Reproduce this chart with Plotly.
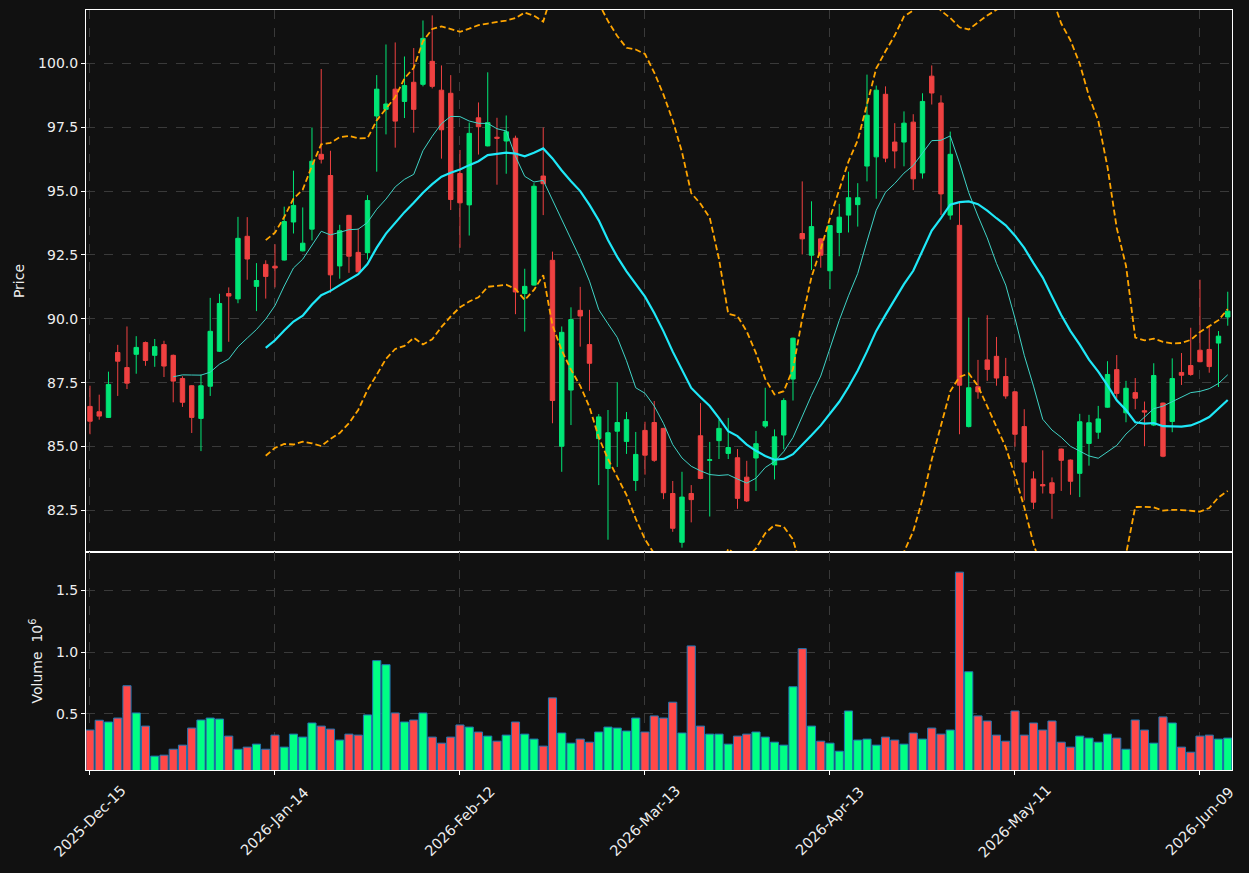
import pandas as pd
import plotly.graph_objects as go
from plotly.subplots import make_subplots

# ---------------- data ----------------
opens = [86.57, 86.36, 86.14, 88.68, 88.09, 88.61, 89.07, 88.57, 88.99, 88.57,
         87.66, 87.38, 86.10, 87.36, 88.73, 90.99, 90.78, 93.23, 91.27, 92.13,
         92.06, 92.30, 93.79, 92.66, 93.51, 96.44, 95.61, 92.07, 94.05, 92.60,
         92.59, 97.94, 98.20, 98.99, 98.51, 99.26, 99.18, 100.08, 98.95, 98.83,
         95.69, 94.46, 97.87, 96.77, 97.11, 96.96, 97.07, 90.99, 91.32, 95.59,
         92.29, 85.01, 87.21, 90.33, 88.99, 85.31, 84.14, 85.60, 85.20, 83.67,
         85.63, 85.94, 85.71, 83.16, 81.25, 83.16, 85.42, 84.46, 85.23, 84.73,
         84.56, 83.80, 84.55, 85.80, 84.28, 85.45, 87.64, 93.34, 92.49, 93.13,
         91.88, 93.38, 94.06, 94.47, 95.98, 96.34, 98.79, 96.92, 96.92, 97.70,
         95.71, 99.50, 98.45, 94.06, 93.66, 85.78, 87.34, 88.39, 88.53, 87.74,
         87.14, 85.78, 83.73, 83.51, 83.58, 84.90, 84.47, 83.95, 85.12, 85.56,
         86.54, 88.01, 86.32, 87.11, 86.40, 85.84, 86.70, 85.98, 87.90, 88.17,
         88.77, 88.80, 89.05, 90.07]
highs = [87.38, 87.03, 87.93, 88.98, 89.70, 89.32, 89.11, 89.21, 89.14, 88.60,
         87.75, 87.40, 87.82, 90.82, 90.98, 91.23, 93.99, 93.98, 92.18, 92.29,
         92.92, 94.39, 95.80, 94.36, 97.49, 99.78, 96.58, 93.68, 94.07, 93.54,
         94.84, 99.54, 100.74, 100.82, 100.27, 100.60, 101.68, 101.88, 99.92, 99.54,
         96.61, 97.68, 98.47, 99.65, 97.87, 97.96, 97.17, 91.96, 95.31, 97.49,
         92.63, 89.70, 90.45, 91.25, 90.35, 86.27, 86.43, 87.52, 86.35, 85.57,
         85.97, 86.78, 85.73, 83.65, 84.01, 83.49, 86.70, 85.18, 86.05, 86.12,
         84.90, 84.44, 85.61, 87.30, 85.67, 86.89, 89.26, 95.38, 94.60, 93.15,
         93.67, 94.50, 95.76, 95.31, 99.56, 99.13, 99.10, 97.66, 98.12, 98.01,
         98.83, 99.92, 98.75, 97.33, 94.54, 90.05, 88.39, 90.14, 89.29, 88.47,
         87.16, 86.46, 84.03, 84.85, 83.79, 84.92, 84.49, 86.28, 86.24, 86.59,
         88.34, 88.58, 87.57, 87.68, 86.76, 88.26, 86.72, 88.45, 88.66, 89.65,
         91.53, 89.70, 89.52, 91.06]
lows = [85.48, 86.05, 86.12, 86.98, 87.25, 87.85, 88.16, 88.12, 87.72, 86.73,
        86.55, 85.53, 84.82, 86.98, 88.70, 89.10, 90.61, 91.53, 90.30, 90.79,
        91.23, 92.28, 93.34, 92.64, 93.07, 96.08, 91.02, 91.57, 91.80, 91.82,
        92.32, 95.76, 97.22, 96.70, 97.86, 97.29, 99.10, 99.02, 96.27, 94.26,
        92.78, 93.26, 96.43, 96.75, 95.25, 95.68, 90.18, 89.50, 91.30, 94.06,
        85.91, 84.01, 85.84, 88.91, 87.18, 83.49, 81.35, 84.20, 84.71, 83.26,
        83.90, 84.40, 82.94, 81.66, 81.04, 82.03, 83.72, 82.26, 84.51, 84.51,
        82.56, 82.83, 83.26, 85.72, 83.71, 84.89, 86.80, 92.52, 91.91, 92.00,
        91.16, 92.45, 93.38, 93.61, 95.38, 94.70, 96.13, 95.89, 95.97, 95.04,
        95.49, 98.39, 94.06, 93.88, 85.48, 85.75, 86.87, 87.57, 87.38, 86.87,
        84.99, 82.89, 82.55, 83.16, 82.17, 83.26, 83.11, 83.02, 84.25, 85.30,
        86.52, 86.87, 85.95, 86.46, 85.01, 85.80, 84.58, 85.56, 87.41, 87.77,
        88.30, 87.89, 87.33, 89.73]
closes = [85.99, 86.19, 87.43, 88.34, 87.48, 88.88, 88.37, 88.91, 88.15, 87.56,
          86.73, 86.14, 87.38, 89.51, 90.60, 90.89, 93.15, 92.34, 91.50, 91.66,
          91.99, 93.81, 94.44, 92.96, 96.17, 96.25, 91.72, 93.45, 92.45, 91.84,
          94.63, 98.99, 98.41, 97.74, 99.13, 98.20, 100.98, 99.10, 97.40, 94.67,
          94.54, 97.26, 97.52, 97.68, 97.07, 97.32, 91.05, 91.27, 95.19, 95.29,
          86.80, 89.47, 89.97, 90.11, 88.26, 86.16, 85.54, 85.94, 86.05, 84.69,
          84.66, 84.46, 83.19, 81.80, 83.02, 82.92, 83.75, 84.48, 85.71, 84.96,
          82.97, 82.87, 85.11, 85.98, 85.38, 86.80, 89.24, 93.13, 93.61, 92.49,
          93.65, 93.98, 94.74, 94.74, 97.97, 98.95, 96.29, 96.57, 97.66, 95.48,
          98.51, 98.84, 94.89, 96.44, 87.40, 87.30, 87.14, 88.02, 87.68, 86.98,
          85.48, 84.39, 82.82, 83.46, 83.17, 84.46, 83.64, 85.97, 85.93, 86.08,
          87.82, 87.08, 87.28, 86.89, 86.35, 87.78, 84.62, 87.66, 87.79, 87.82,
          88.32, 88.13, 89.32, 90.30]
volumes = [370000, 449000, 435000, 467000, 728000, 508000, 402000, 159000, 167000, 215000,
           248000, 386000, 451000, 467000, 459000, 321000, 215000, 232000, 256000, 215000,
           329000, 232000, 337000, 313000, 427000, 402000, 378000, 289000, 337000, 329000,
           492000, 931000, 898000, 508000, 435000, 451000, 508000, 313000, 264000, 313000,
           411000, 394000, 354000, 321000, 280000, 329000, 435000, 337000, 297000, 240000,
           630000, 346000, 264000, 297000, 272000, 354000, 394000, 386000, 362000, 467000,
           354000, 484000, 467000, 595000, 346000, 1050000, 402000, 337000, 337000, 256000,
           321000, 337000, 354000, 313000, 272000, 248000, 720000, 1028000, 402000, 280000,
           264000, 199000, 524000, 289000, 297000, 248000, 313000, 289000, 256000, 346000,
           297000, 386000, 337000, 370000, 1646000, 841000, 484000, 443000, 329000, 280000,
           524000, 329000, 427000, 370000, 443000, 272000, 232000, 321000, 305000, 272000,
           337000, 305000, 215000, 451000, 370000, 264000, 476000, 427000, 232000, 191000,
           321000, 329000, 297000, 305000]
tick_labels = ["2025-Dec-15", "2026-Jan-14", "2026-Feb-12", "2026-Mar-13",
               "2026-Apr-13", "2026-May-11", "2026-Jun-09"]
tick_index = [0, 20, 40, 60, 80, 100, 120]

# ---------------- derived series ----------------
idx = list(range(len(closes)))
cs = pd.Series(closes)
ma10 = cs.rolling(10).mean()
ma20 = cs.rolling(20).mean()
sd20 = cs.rolling(20).std(ddof=0)
bb_up = ma20 + 2 * sd20
bb_lo = ma20 - 2 * sd20
vol_m = [v / 1e6 for v in volumes]

UP_C, DN_C = "#00e676", "#ef4141"
UP_V, DN_V = "#00ff84", "#ff4848"
vcolors = [UP_V if c >= o else DN_V for o, c in zip(opens, closes)]

fig = make_subplots(rows=2, cols=1, shared_xaxes=True, vertical_spacing=0,
                    row_heights=[542, 218])

fig.add_trace(go.Candlestick(
    x=idx, open=opens, high=highs, low=lows, close=closes,
    increasing=dict(line=dict(color=UP_C, width=1), fillcolor=UP_C),
    decreasing=dict(line=dict(color=DN_C, width=1), fillcolor=DN_C),
    whiskerwidth=0, showlegend=False), row=1, col=1)

fig.add_trace(go.Scatter(x=idx, y=ma10, mode="lines",
                         line=dict(color="#3fd3c6", width=1), showlegend=False), row=1, col=1)
fig.add_trace(go.Scatter(x=idx, y=ma20, mode="lines",
                         line=dict(color="#1fe8f8", width=2.2), showlegend=False), row=1, col=1)
for band in (bb_up, bb_lo):
    fig.add_trace(go.Scatter(x=idx, y=band, mode="lines",
                             line=dict(color="#ffa500", width=1.8, dash="6px,3px"),
                             showlegend=False), row=1, col=1)

fig.add_trace(go.Bar(x=idx, y=vol_m, width=0.88,
                     marker=dict(color=vcolors, line=dict(color="#1f77b4", width=1)),
                     showlegend=False), row=2, col=1)

FONT = dict(family="DejaVu Sans", size=14, color="#eeeeee")
axis_common = dict(showline=True, mirror=True, linecolor="#ffffff", linewidth=1,
                   showgrid=True, gridcolor="#3a3a3a", griddash="dash", gridwidth=1,
                   ticks="outside", ticklen=4, tickcolor="#ffffff", tickfont=FONT,
                   zeroline=False)

fig.update_xaxes(**axis_common, range=[-0.43, 123.46], tickmode="array",
                 tickvals=tick_index, ticktext=tick_labels, rangeslider_visible=False,
                 showticklabels=False)

# rotated date labels centred under their ticks (matplotlib style)
for pos, lab in zip(tick_index, tick_labels):
    fig.add_annotation(x=pos, xref="x2", y=0, yref="paper", yshift=-51,
                       text=lab, textangle=-45, showarrow=False,
                       xanchor="center", yanchor="middle", font=dict(FONT, size=14.5))

fig.update_yaxes(**axis_common)
fig.update_yaxes(range=[80.87, 102.09], dtick=2.5, tick0=0, tickformat=".1f",
                 title=dict(text="Price", font=FONT, standoff=10), row=1, col=1)
fig.update_yaxes(range=[0.047, 1.809], tickvals=[0.5, 1.0, 1.5], tickformat=".1f",
                 title=dict(text="Volume  10<sup>6</sup>", font=FONT, standoff=10),
                 row=2, col=1)

fig.update_layout(width=1249, height=873,
                  margin=dict(l=86, r=17, t=10, b=103),
                  paper_bgcolor="#111111", plot_bgcolor="#111111",
                  boxgap=0.32, bargap=0.1, font=FONT, showlegend=False)

fig.write_html("out.html")
